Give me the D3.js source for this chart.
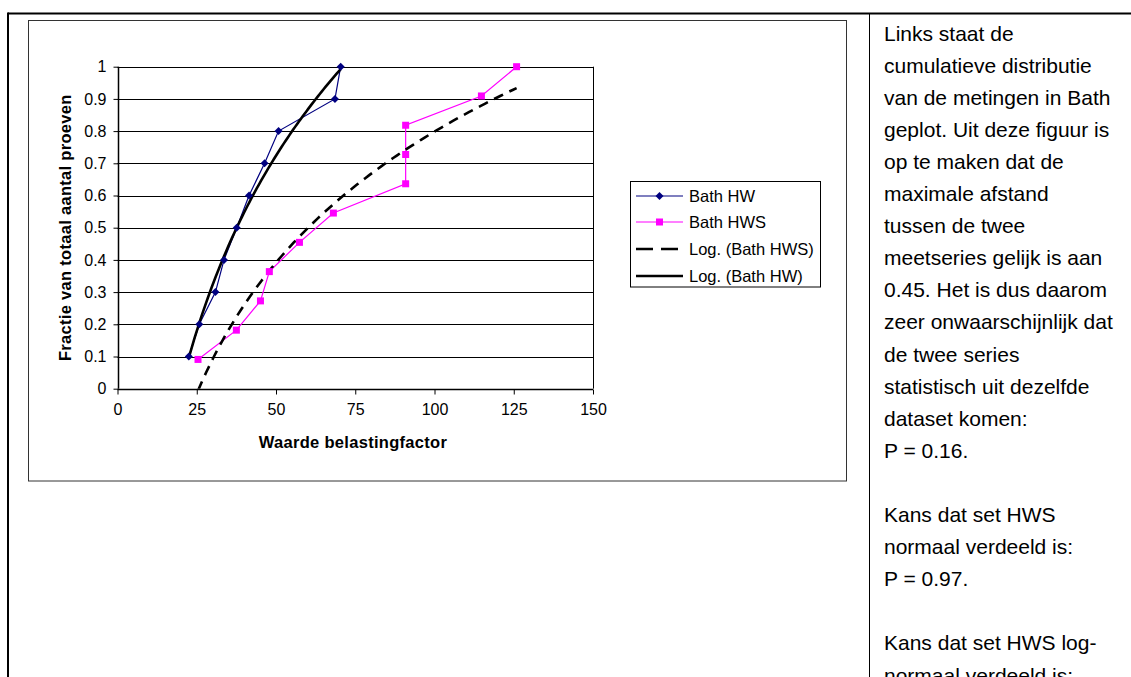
<!DOCTYPE html>
<html>
<head>
<meta charset="utf-8">
<script src="https://cdn.jsdelivr.net/npm/d3@7"></script>
<style>
html,body{margin:0;padding:0;background:#fff;}
svg{display:block;}
text{font-family:Arial,"Liberation Sans",sans-serif;fill:#000;}
</style>
</head>
<body>
<svg id="c" width="1131" height="677"></svg>
<script>
// ---- data ----
const hwX  = [22.5, 25.8, 30.9, 33.6, 37.6, 41.5, 46.4, 50.8, 68.6, 70.4];
const hwY  = [0.1, 0.2, 0.3, 0.4, 0.5, 0.6, 0.7, 0.8, 0.9, 1.0];
const hwsX = [25.4, 37.5, 45.1, 47.9, 57.4, 68.1, 90.9, 90.9, 90.9, 114.8, 125.9];
const hwsY = [0.0909, 0.1818, 0.2727, 0.3636, 0.4545, 0.5455, 0.6364, 0.7273, 0.8182, 0.9091, 1.0];
const xTicks = [0, 25, 50, 75, 100, 125, 150];
const yTicks = [0, 0.1, 0.2, 0.3, 0.4, 0.5, 0.6, 0.7, 0.8, 0.9, 1];
const legendLabels = ["Bath HW", "Bath HWS", "Log. (Bath HWS)", "Log. (Bath HW)"];
const xTitle = "Waarde belastingfactor";
const yTitle = "Fractie van totaal aantal proeven";
const sideText = [
  "Links staat de",
  "cumulatieve distributie",
  "van de metingen in Bath",
  "geplot. Uit deze figuur is",
  "op te maken dat de",
  "maximale afstand",
  "tussen de twee",
  "meetseries gelijk is aan",
  "0.45. Het is dus daarom",
  "zeer onwaarschijnlijk dat",
  "de twee series",
  "statistisch uit dezelfde",
  "dataset komen:",
  "P = 0.16.",
  "",
  "Kans dat set HWS",
  "normaal verdeeld is:",
  "P = 0.97.",
  "",
  "Kans dat set HWS log-",
  "normaal verdeeld is:"
];

const svg = d3.select("#c");

// ---- page table borders ----
svg.append("line").attr("x1",8).attr("x2",1131).attr("y1",13.5).attr("y2",13.5)
  .attr("stroke","#000").attr("stroke-width",2);
svg.append("line").attr("x1",8).attr("x2",8).attr("y1",12.5).attr("y2",677)
  .attr("stroke","#000").attr("stroke-width",2);
svg.append("line").attr("x1",869.5).attr("x2",869.5).attr("y1",13).attr("y2",677)
  .attr("stroke","#000").attr("stroke-width",1);

// chart frame
svg.append("rect").attr("x",28.5).attr("y",20.5).attr("width",818).attr("height",460.5)
  .attr("fill","#fff").attr("stroke","#333").attr("stroke-width",1);

// ---- scales ----
const x = d3.scaleLinear().domain([0,150]).range([117.5,593]);
const y = d3.scaleLinear().domain([0,1]).range([388.7,66.7]);

// gridlines
svg.append("g").selectAll("line").data(yTicks.slice(1)).join("line")
  .attr("x1",x(0)).attr("x2",x(150))
  .attr("y1",d=>Math.round(y(d))+0.5).attr("y2",d=>Math.round(y(d))+0.5)
  .attr("stroke","#000").attr("stroke-width",1);
// plot right border
svg.append("line").attr("x1",Math.round(x(150))+0.5).attr("x2",Math.round(x(150))+0.5)
  .attr("y1",y(1)).attr("y2",y(0)).attr("stroke","#000").attr("stroke-width",1);

// axes
const xAxis = d3.axisBottom(x).tickValues(xTicks).tickFormat(d3.format("d")).tickSize(5).tickPadding(9);
const gx = svg.append("g").attr("transform",`translate(0,${Math.round(y(0))+0.5})`).call(xAxis);
const yAxis = d3.axisLeft(y).tickValues(yTicks).tickFormat(d=>d3.format("")(+d.toFixed(1))).tickSize(5).tickPadding(7);
const gy = svg.append("g").attr("transform",`translate(${Math.round(x(0))+0.5},0)`).call(yAxis);
[gx,gy].forEach(g=>{
  g.selectAll("path.domain").attr("stroke","#000").attr("stroke-width",1.5);
  g.selectAll(".tick line").attr("stroke","#000");
  g.selectAll(".tick text").attr("font-size",16).attr("font-family","Arial, 'Liberation Sans', sans-serif").attr("fill","#000");
});
gx.select("path.domain").attr("d",`M${x(0)},0H${x(150)}`);
gy.select("path.domain").attr("d",`M0,${y(1)}V${y(0)}`);

// axis titles
svg.append("text").attr("x",353).attr("y",448).attr("text-anchor","middle")
  .attr("font-size",16.5).attr("font-weight","bold").attr("letter-spacing",0.3).text(xTitle);
svg.append("text").attr("transform",`translate(71,${(y(0)+y(1))/2}) rotate(-90)`)
  .attr("text-anchor","middle").attr("font-size",16.5).attr("font-weight","bold").attr("letter-spacing",0.3).text(yTitle);

// ---- series ----
const hw = hwX.map((v,i)=>[v,hwY[i]]);
const hws = hwsX.map((v,i)=>[v,hwsY[i]]);
const line = d3.line().x(d=>x(d[0])).y(d=>y(d[1]));

svg.append("path").attr("d",line(hw)).attr("fill","none").attr("stroke","#000080").attr("stroke-width",1.2);
svg.append("path").attr("d",line(hws)).attr("fill","none").attr("stroke","#FF00FF").attr("stroke-width",1.2);

// log trendlines (least squares y = a ln x + b computed from the series)
function logFit(pts){
  const n=pts.length;
  const lx=pts.map(p=>Math.log(p[0]));
  const mx=d3.mean(lx), my=d3.mean(pts,p=>p[1]);
  let sxy=0,sxx=0;
  pts.forEach((p,i)=>{sxy+=(lx[i]-mx)*(p[1]-my);sxx+=(lx[i]-mx)**2;});
  const a=sxy/sxx, b=my-a*mx;
  const [lo,hi]=d3.extent(pts,p=>p[0]);
  const steps=80;
  return d3.range(steps+1).map(k=>{const xv=lo+(hi-lo)*k/steps;return [xv,a*Math.log(xv)+b];});
}
svg.append("clipPath").attr("id","clip").append("rect")
  .attr("x",x(0)).attr("y",y(1)-2).attr("width",x(150)-x(0)).attr("height",y(0)-y(1)+2);
const tg = svg.append("g").attr("clip-path","url(#clip)");
tg.append("path").attr("d",line(logFit(hws))).attr("fill","none").attr("stroke","#000")
  .attr("stroke-width",2.6).attr("stroke-dasharray","10,7");
tg.append("path").attr("d",line(logFit(hw))).attr("fill","none").attr("stroke","#000")
  .attr("stroke-width",2.6);

// markers
const diamond = "M0,-4L4,0L0,4L-4,0Z";
svg.append("g").selectAll("path").data(hw).join("path")
  .attr("transform",d=>`translate(${x(d[0])},${y(d[1])})`).attr("d",diamond).attr("fill","#000080");
svg.append("g").selectAll("rect").data(hws).join("rect")
  .attr("x",d=>x(d[0])-3.5).attr("y",d=>y(d[1])-3.5).attr("width",7).attr("height",7).attr("fill","#FF00FF");

// ---- legend ----
const lg = svg.append("g");
lg.append("rect").attr("x",630.5).attr("y",181.5).attr("width",190).attr("height",105.5)
  .attr("fill","#fff").attr("stroke","#000").attr("stroke-width",1);
const ly = [196, 222, 249, 276];
legendLabels.forEach((lab,i)=>{
  const yy=ly[i];
  const l=lg.append("line").attr("x1",636).attr("x2",683).attr("y1",yy).attr("y2",yy).attr("stroke","#000");
  if(i===0){ l.attr("stroke","#000080").attr("stroke-width",1.2);
    lg.append("path").attr("transform",`translate(659.5,${yy})`).attr("d",diamond).attr("fill","#000080"); }
  if(i===1){ l.attr("stroke","#FF00FF").attr("stroke-width",1.2);
    lg.append("rect").attr("x",656).attr("y",yy-3.5).attr("width",7).attr("height",7).attr("fill","#FF00FF"); }
  if(i===2){ l.attr("stroke-width",2.6).attr("stroke-dasharray","17,8"); }
  if(i===3){ l.attr("stroke-width",2.6); }
  lg.append("text").attr("x",689).attr("y",yy+6).attr("font-size",16.5).text(lab);
});

// ---- side text ----
svg.append("g").selectAll("text").data(sideText).join("text")
  .attr("x",884).attr("y",(d,i)=>40.5+i*32.1).attr("font-size",21).text(d=>d);
</script>
</body>
</html>
